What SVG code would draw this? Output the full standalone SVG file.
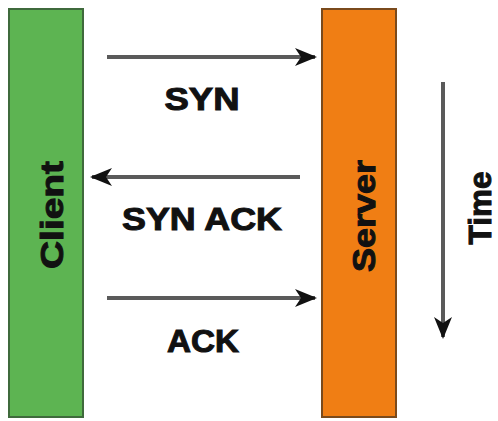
<svg xmlns="http://www.w3.org/2000/svg" width="498" height="421" viewBox="0 0 498 421">
  <style>
    .lane { stroke-width: 2; }
    .label { font-family: "Liberation Sans", Arial, sans-serif; font-weight: bold; font-size: 31px; fill: #111; stroke: #111; stroke-width: 1; }
    .msg { stroke: #5a5a5a; stroke-width: 4; fill: none; marker-end: url(#head); }
  </style>
  <defs>
    <marker id="head" viewBox="0 0 22 18" refX="20" refY="9" markerWidth="22" markerHeight="18" markerUnits="userSpaceOnUse" orient="auto">
      <path d="M0,0 L22,9 L0,18 L6,9 Z" fill="#111"/>
    </marker>
  </defs>
  <rect width="498" height="421" fill="#ffffff"/>

  <g id="client">
    <rect class="lane" x="9" y="9" width="74" height="408" fill="#5db452" stroke="#3f6a3c"/>
    <text class="label" transform="translate(63,215) rotate(-90)" text-anchor="middle" textLength="108" lengthAdjust="spacingAndGlyphs">Client</text>
  </g>

  <g id="server">
    <rect class="lane" x="322" y="9" width="74" height="408" fill="#f07e14" stroke="#7a4a1c"/>
    <text class="label" transform="translate(375,216) rotate(-90)" text-anchor="middle" textLength="112" lengthAdjust="spacingAndGlyphs">Server</text>
  </g>

  <g id="time">
    <text class="label" transform="translate(491,208) rotate(-90)" text-anchor="middle" textLength="73" lengthAdjust="spacingAndGlyphs">Time</text>
  </g>

  <g id="connectors">
    <line class="msg" x1="107" y1="57" x2="315" y2="57"/>
    <line class="msg" x1="300" y1="177" x2="92" y2="177"/>
    <line class="msg" x1="107" y1="298" x2="315" y2="298"/>
    <line class="msg" x1="443" y1="82" x2="443" y2="337" stroke="#7a7a7a"/>
  </g>

  <g id="labels">
    <text class="label" x="202" y="110" text-anchor="middle" textLength="75" lengthAdjust="spacingAndGlyphs">SYN</text>
    <text class="label" x="202" y="230" text-anchor="middle" textLength="160" lengthAdjust="spacingAndGlyphs">SYN ACK</text>
    <text class="label" x="203" y="352" text-anchor="middle" textLength="72" lengthAdjust="spacingAndGlyphs">ACK</text>
  </g>
</svg>
